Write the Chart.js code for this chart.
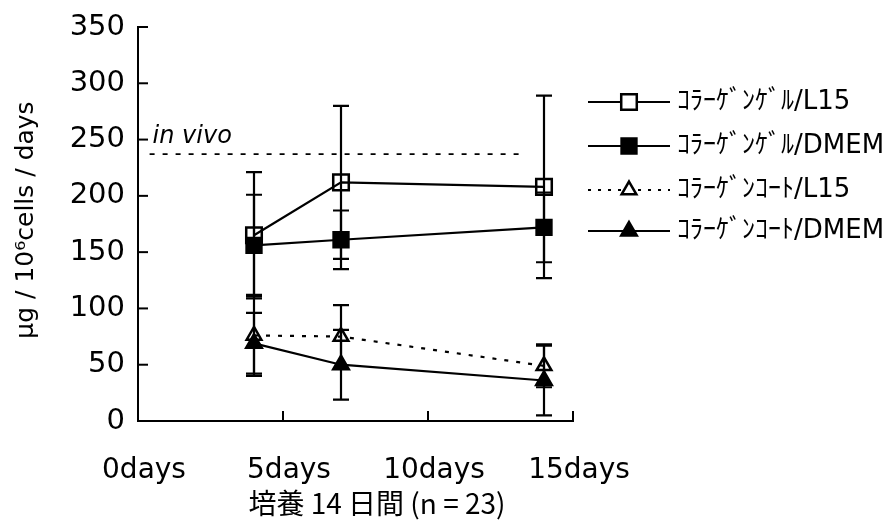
<!DOCTYPE html>
<html><head><meta charset="utf-8">
<script src="https://cdn.jsdelivr.net/npm/chart.js@4/dist/chart.umd.min.js"></script>
<style>html,body{margin:0;padding:0;background:#fff}#wrap{width:882px;height:522px}</style>
</head><body><div id="wrap"><canvas id="c" width="882" height="522"></canvas></div>
<script>
// ---- data ----
const days = [4, 7, 14];
const seriesLabels = ['ｺﾗｰｹﾞﾝｹﾞﾙ/L15', 'ｺﾗｰｹﾞﾝｹﾞﾙ/DMEM', 'ｺﾗｰｹﾞﾝｺｰﾄ/L15', 'ｺﾗｰｹﾞﾝｺｰﾄ/DMEM'];
const gelL15 = [165, 212, 208];
const gelL15SD = [56, 68, 81];
const gelDMEM = [156, 161, 172];
const gelDMEMSD = [45, 26, 31];
const coatL15 = [76, 75, 49];
const coatL15SD = [36, 28, 19];
const coatDMEM = [69, 50, 36];
const coatDMEMSD = [27, 31, 31];
const xTickSuffix = 'days';
const yMax = 350;
const yStep = 50;
const xMax = 15;
const xStep = 5;
const inVivoValue = 237;
const inVivoSpan = [0.4, 13.4];
const inVivoLabel = 'in vivo';
const xTitle = '培養 14 日間 (n = 23)';
const yTitle = 'µg / 10⁶cells / days';

const values = [gelL15, gelDMEM, coatL15, coatDMEM];
const sds = [gelL15SD, gelDMEMSD, coatL15SD, coatDMEMSD];

const styles = [
  {pointStyle: 'rect', radius: 11, fill: false, dash: []},
  {pointStyle: 'rect', radius: 10.5, fill: true, dash: []},
  {pointStyle: 'triangle', radius: 8.5, fill: false, dash: [4, 8]},
  {pointStyle: 'triangle', radius: 9, fill: true, dash: []}
];

const datasets = values.map((v, k) => ({
  label: seriesLabels[k],
  data: days.map((d, i) => ({x: d, y: v[i]})),
  borderColor: '#000',
  borderWidth: 2.2,
  borderDash: styles[k].dash,
  pointStyle: styles[k].pointStyle,
  pointRadius: styles[k].radius,
  pointHoverRadius: styles[k].radius,
  pointBorderWidth: 2.5,
  pointBorderColor: '#000',
  pointBackgroundColor: styles[k].fill ? '#000' : 'rgba(0,0,0,0)',
  tension: 0
}));
datasets.push({
  label: inVivoLabel,
  data: inVivoSpan.map(x => ({x: x, y: inVivoValue})),
  borderColor: '#000',
  borderWidth: 1.8,
  borderDash: [5, 8],
  pointRadius: 0
});

const errorBars = {
  id: 'errorBars',
  beforeDatasetsDraw(chart) {
    const {ctx, scales: {x, y}} = chart;
    ctx.save();
    ctx.strokeStyle = '#000';
    ctx.lineWidth = 2.2;
    values.forEach((v, k) => {
      v.forEach((val, i) => {
        const px = x.getPixelForValue(days[i]);
        const top = y.getPixelForValue(val + sds[k][i]);
        const bot = y.getPixelForValue(Math.max(0, val - sds[k][i]));
        ctx.beginPath();
        ctx.moveTo(px, top); ctx.lineTo(px, bot);
        ctx.moveTo(px - 8, top); ctx.lineTo(px + 8, top);
        ctx.moveTo(px - 8, bot); ctx.lineTo(px + 8, bot);
        ctx.stroke();
      });
    });
    ctx.restore();
  }
};

const decorations = {
  id: 'decorations',
  afterDraw(chart) {
    const {ctx, scales: {x, y}, chartArea} = chart;
    ctx.save();
    ctx.strokeStyle = '#000';
    ctx.lineWidth = 2;
    // inward ticks
    y.ticks.forEach(t => {
      const py = y.getPixelForValue(t.value);
      ctx.beginPath(); ctx.moveTo(chartArea.left, py); ctx.lineTo(chartArea.left + 10, py); ctx.stroke();
    });
    x.ticks.forEach(t => {
      if (t.value === 0) return;
      const px = x.getPixelForValue(t.value);
      ctx.beginPath(); ctx.moveTo(px, chartArea.bottom); ctx.lineTo(px, chartArea.bottom - 10); ctx.stroke();
    });
    // in vivo label
    ctx.fillStyle = '#000';
    ctx.font = 'italic 24px "DejaVu Sans"';
    ctx.textAlign = 'left';
    ctx.textBaseline = 'alphabetic';
    ctx.fillText(inVivoLabel, x.getPixelForValue(inVivoSpan[0]) + 3, y.getPixelForValue(inVivoValue) - 11);
    // x title
    ctx.font = '28px "Noto Sans CJK JP"';
    ctx.textAlign = 'center';
    ctx.textBaseline = 'middle';
    ctx.fillText(xTitle, 377, 503);
    // y title
    ctx.save();
    ctx.translate(26, 220);
    ctx.rotate(-Math.PI / 2);
    ctx.font = '25px "DejaVu Sans"';
    ctx.fillText(yTitle, 0, 0);
    ctx.restore();
    // legend
    const rows = [102, 146, 190, 231];
    ctx.font = '26px "DejaVu Sans", "Noto Sans CJK JP"';
    ctx.textAlign = 'left';
    seriesLabels.forEach((lab, k) => {
      const ry = rows[k];
      ctx.save();
      ctx.lineWidth = 2;
      ctx.setLineDash(k === 2 ? [3, 7] : []);
      ctx.beginPath(); ctx.moveTo(588, ry); ctx.lineTo(670, ry); ctx.stroke();
      ctx.restore();
      ctx.save();
      ctx.lineWidth = 2.5;
      ctx.fillStyle = styles[k].fill ? '#000' : '#fff';
      Chart.helpers.drawPoint(ctx, {pointStyle: styles[k].pointStyle, radius: styles[k].radius, rotation: 0, borderWidth: 2.5}, 629, ry);
      ctx.restore();
      ctx.fillStyle = '#000';
      ctx.textBaseline = 'middle';
      ctx.fillText(lab, 677, ry);
    });
    ctx.restore();
  }
};

new Chart(document.getElementById('c'), {
  type: 'line',
  data: {datasets},
  options: {
    responsive: false,
    devicePixelRatio: 1,
    animation: false,
    layout: {padding: {top: 27, right: 309, left: 0, bottom: 0}},
    plugins: {legend: {display: false}, tooltip: {enabled: false}},
    scales: {
      x: {
        type: 'linear', min: 0, max: xMax,
        grid: {display: false},
        border: {display: true, color: '#000', width: 2},
        ticks: {stepSize: xStep, color: '#000', padding: 25, maxRotation: 0, labelOffset: 6,
          font: {family: 'DejaVu Sans', size: 28},
          callback: v => v + xTickSuffix},
        afterFit(s) { s.height = 101; }
      },
      y: {
        min: 0, max: yMax,
        grid: {display: false},
        border: {display: true, color: '#000', width: 2},
        ticks: {stepSize: yStep, color: '#000', padding: 5,
          font: {family: 'DejaVu Sans', size: 29}},
        afterFit(s) { s.width = 138; }
      }
    }
  },
  plugins: [errorBars, decorations]
});
</script>
</body></html>
